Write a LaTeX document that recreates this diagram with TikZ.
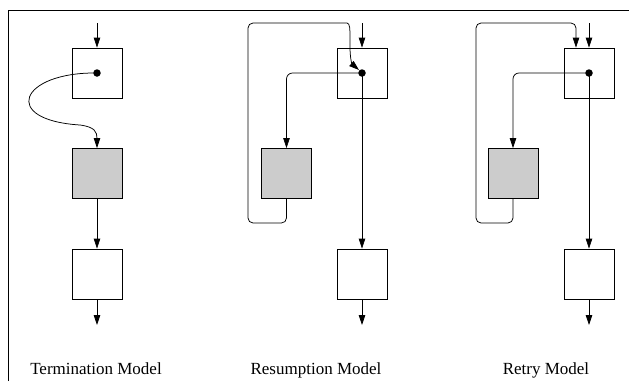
\documentclass[tikz,border=0pt]{standalone}
\usepackage{fontspec}
\setmainfont{Liberation Serif}
\usetikzlibrary{arrows.meta}
\begin{document}
\begin{tikzpicture}[x=1pt,y=-1pt,
  box/.style={draw, line width=0.75pt, minimum width=50pt, minimum height=50pt, inner sep=0pt},
  shadebox/.style={box, fill=black!20},
  flow/.style={line width=0.75pt, -{Triangle[length=10pt,width=6.5pt]}},
  dotn/.style={circle, fill=black, inner sep=0pt, minimum size=7.5pt},
  lab/.style={font=\fontsize{17}{20}\selectfont, anchor=base, inner sep=0pt}]
\useasboundingbox (0,0) rectangle (629,381);
\draw[line width=0.8pt] (8,381) -- (8,10) -- (629,10);

% Termination model
\node[box] (tA) at (97,73) {};
\node[shadebox] (tB) at (97,173.5) {};
\node[box] (tC) at (97,274) {};
\coordinate (tin) at (97,23);
\coordinate (tout) at (97,325);
\draw[flow] (tin) -- (tA.north);
\draw[flow] (97,73) .. controls (20,72) and (0,120) .. (80,125) .. controls (95,127) and (97,132) .. (tB.north);
\node[dotn] (tD) at (97,73) {};
\draw[flow] (tB.south) -- (tC.north);
\draw[flow] (tC.south) -- (tout);
\node[lab] (tL) at (96,374) {Termination Model};

% Resumption model
\node[box] (rA) at (362,73) {};
\node[shadebox] (rB) at (286.5,173.5) {};
\node[box] (rC) at (362,274) {};
\coordinate (rin) at (362,23);
\coordinate (rout) at (362,325);
\coordinate (rhit) at (359,70);
\draw[flow] (rin) -- (rA.north);
\draw[flow] (362,73) -- (rC.north);
\draw[flow, rounded corners=6pt] (362,73) -| (rB.north);
\draw[flow, rounded corners=5pt] (rB.south) -- (286.5,223) -- (248,223) -- (248,23) -- (342,23)
  .. controls (350,23) and (350,30) .. (350,42) .. controls (350,58) and (352,64) .. (rhit);
\node[dotn] (rD) at (362,73) {};
\draw[flow] (rC.south) -- (rout);
\node[lab] (rL) at (316,374) {Resumption Model};

% Retry model
\node[box] (yA) at (589,73) {};
\node[shadebox] (yB) at (513,173.5) {};
\node[box] (yC) at (589,274) {};
\coordinate (yin) at (589,23);
\coordinate (yout) at (589,325);
\draw[flow] (yin) -- (yA.north);
\draw[flow] (589,73) -- (yC.north);
\draw[flow, rounded corners=6pt] (589,73) -| (yB.north);
\draw[flow, rounded corners=5pt] (yB.south) -- (513,223) -- (476,223) -- (476,23) -- (576,23) -- ([xshift=-13pt]yA.north);
\node[dotn] (yD) at (589,73) {};
\draw[flow] (yC.south) -- (yout);
\node[lab] (yL) at (546,374) {Retry Model};
\end{tikzpicture}
\end{document}
